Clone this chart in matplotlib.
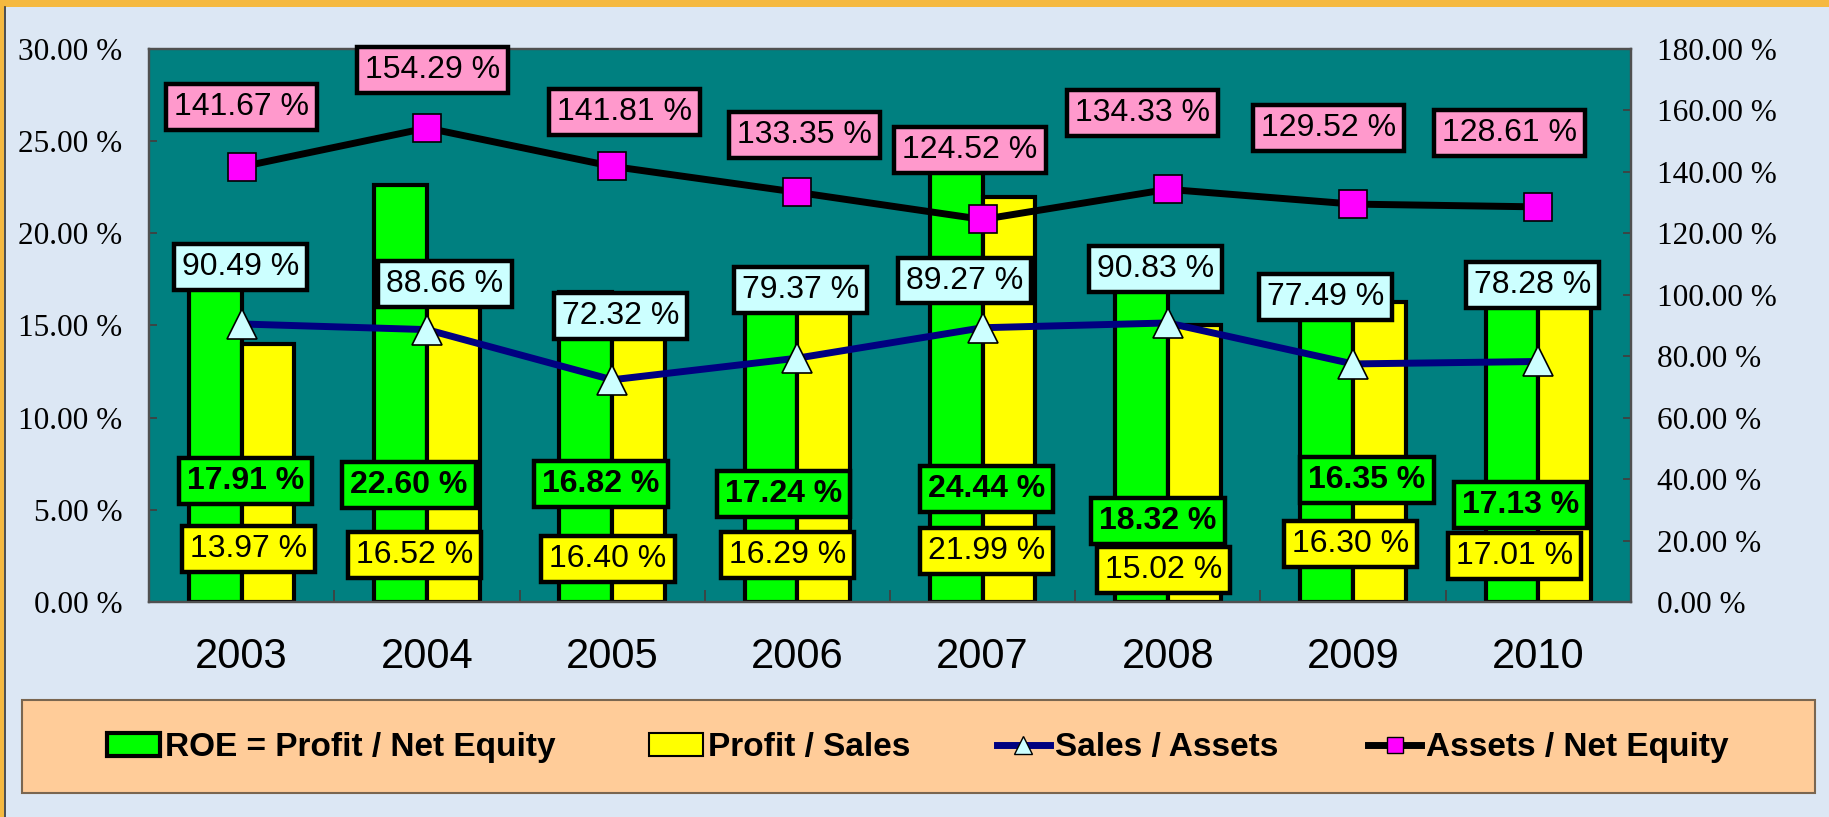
import matplotlib
matplotlib.use("Agg")
import matplotlib.pyplot as plt
import numpy as np
from matplotlib.patches import Patch, Rectangle
from matplotlib.lines import Line2D

plt.rcParams['font.family'] = ['Liberation Sans', 'DejaVu Sans']

# data
years = ['2003', '2004', '2005', '2006', '2007', '2008', '2009', '2010']
roe = [17.91, 22.60, 16.82, 17.24, 24.44, 18.32, 16.35, 17.13]
profit_sales = [13.97, 16.52, 16.40, 16.29, 21.99, 15.02, 16.30, 17.01]
sales_assets = [90.49, 88.66, 72.32, 79.37, 89.27, 90.83, 77.49, 78.28]
assets_equity = [141.67, 154.29, 141.81, 133.35, 124.52, 134.33, 129.52, 128.61]

# label offsets in points (layout only)
ae_off = [(0, 43), (4, 42), (9, 39), (5, 41), (-9, 50), (-18, 55), (-18, 55), (-21, 53)]
sa_off = [(-1, 41), (13, 33), (6, 46), (2, 49), (-13, 34), (-9, 39), (-20, 48), (-4, 55)]
roe_off = [(3, 87), (-13, 84), (-8, 85), (-10, 78), (3, 81), (-7, 58), (10, 88), (-13, 70)]
ps_off = [(5, 38), (-9, 34), (-3, 31), (-7, 34), (3, 37), (-3, 23), (-2, 42), (-17, 33)]

x = np.arange(len(years))
bw = 0.285

fig = plt.figure(figsize=(18.29, 8.17), dpi=100)
fig.patch.set_facecolor('#dce7f4')

# frame bits
fig.add_artist(Rectangle((0, 0.992), 1, 0.008, transform=fig.transFigure,
                         fc='#f5b940', ec='none'))
fig.add_artist(Rectangle((0, 0), 0.002, 1, transform=fig.transFigure,
                         fc='#f5b940', ec='none'))
fig.add_artist(Line2D([0.0025, 0.0025], [0, 0.992], transform=fig.transFigure,
                      color='#333333', lw=1.2))

ax = fig.add_axes([0.0815, 0.2632, 0.8102, 0.6768])
ax.set_facecolor('#008080')
ax2 = ax.twinx()

ax.bar(x - bw / 2, roe, bw, color='#00ff00', edgecolor='black', linewidth=3)
ax.bar(x + bw / 2, profit_sales, bw, color='#ffff00', edgecolor='black', linewidth=3)

ax2.plot(x, sales_assets, color='#000080', lw=5, marker='^', ms=21,
         mfc='#ccffff', mec='black', mew=1.2, zorder=3)
ax2.plot(x, assets_equity, color='black', lw=5, marker='s', ms=20,
         mfc='#ff00ff', mec='black', mew=1.2, zorder=3)

ax.set_xlim(-0.5, len(years) - 0.5)
ax.set_ylim(0, 30)
ax2.set_ylim(0, 180)

serif = 'Liberation Serif'
yt = np.arange(0, 30.1, 5)
ax.set_yticks(yt)
ax.set_yticklabels([f'{v:.2f} %' for v in yt], fontfamily=serif)
yt2 = np.arange(0, 180.1, 20)
ax2.set_yticks(yt2)
ax2.set_yticklabels([f'{v:.2f} %' for v in yt2], fontfamily=serif)

ax.tick_params(axis='y', direction='in', length=6, width=1.3, pad=19,
               labelsize=22.5, color='#404040', labelcolor='black')
ax2.tick_params(axis='y', direction='in', length=6, width=1.3, pad=19,
                labelsize=22.5, color='#404040', labelcolor='black')

ax.set_xticks(x)
ax.set_xticklabels(years)
ax.tick_params(axis='x', length=0, pad=25, labelsize=30)
ax.set_xticks(x[:-1] + 0.5, minor=True)
ax.tick_params(axis='x', which='minor', direction='in', length=9, width=1.3,
               color='#404040')

for a in (ax, ax2):
    for s in a.spines.values():
        s.set_color('#505050')
        s.set_linewidth(1.6)

def box(fc):
    return dict(boxstyle='square,pad=0.25', fc=fc, ec='black', lw=3.2)

for i in range(len(years)):
    ax2.annotate(f'{assets_equity[i]:.2f} %', xy=(x[i], assets_equity[i]),
                 xytext=ae_off[i], textcoords='offset points', ha='center',
                 va='center', fontsize=23, bbox=box('#ff99cc'), zorder=5)
    ax2.annotate(f'{sales_assets[i]:.2f} %', xy=(x[i], sales_assets[i]),
                 xytext=sa_off[i], textcoords='offset points', ha='center',
                 va='center', fontsize=23, bbox=box('#ccffff'), zorder=5)
    ax2.annotate(f'{roe[i]:.2f} %', xy=(x[i], 0),
                 xytext=roe_off[i], textcoords='offset points', ha='center',
                 va='center', fontsize=23, fontweight='bold',
                 bbox=box('#00ff00'), zorder=5)
    ax2.annotate(f'{profit_sales[i]:.2f} %', xy=(x[i], 0),
                 xytext=ps_off[i], textcoords='offset points', ha='center',
                 va='center', fontsize=23, bbox=box('#ffff00'), zorder=5)

# legend
fig.add_artist(Rectangle((0.012, 0.0294), 0.9803, 0.1138, transform=fig.transFigure,
                         fc='#ffcc99', ec='#7a6650', lw=1.5, zorder=1))
handles = [
    Patch(facecolor='#00ff00', edgecolor='black', linewidth=3),
    Patch(facecolor='#ffff00', edgecolor='black', linewidth=1.5),
    Line2D([], [], color='#000080', lw=5, marker='^', ms=13, mfc='#ccffff',
           mec='black', mew=1),
    Line2D([], [], color='black', lw=5, marker='s', ms=12, mfc='#ff00ff',
           mec='black', mew=1),
]
names = ['ROE = Profit / Net Equity', 'Profit / Sales', 'Sales / Assets',
         'Assets / Net Equity']
leg_x = [0.0585, 0.355, 0.545, 0.748]
for h, n, lx in zip(handles, names, leg_x):
    fig.legend(handles=[h], labels=[n], loc='center left',
               bbox_to_anchor=(lx, 0.0845), frameon=False, borderpad=0,
               borderaxespad=0, handlelength=1.6, handletextpad=0.15,
               prop=dict(weight='bold', size=24))

fig.savefig('out.png', dpi=100, facecolor=fig.get_facecolor())
